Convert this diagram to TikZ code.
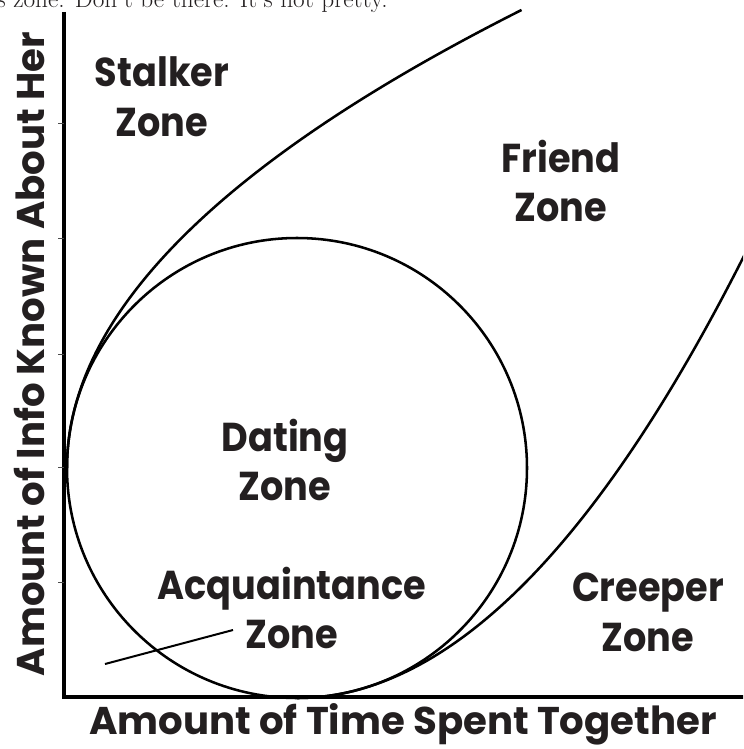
\documentclass[tikz,border=0pt]{standalone}
\usepackage{fontspec}
\newfontfamily\zonefont{Poppins}
\definecolor{ink}{HTML}{231F20}
\tikzset{
  zone/.style={font=\zonefont\bfseries\fontsize{27.5}{34}\selectfont, align=center, text=ink, inner sep=0pt, yscale=1.1},
  axislabel/.style={font=\zonefont\bfseries\fontsize{29}{30}\selectfont, text=ink, inner sep=0pt},
  curve/.style={line width=1.9pt, black},
  axisline/.style={line width=2.6pt, black},
  tick/.style={line width=0.6pt, black!70}
}
\begin{document}
\begin{tikzpicture}[x=0.75pt,y=-0.75pt]
\useasboundingbox (0,0) rectangle (743,749);
\clip (0,0) rectangle (743,749);
% cut-off caption at top
\node[anchor=base west, inner sep=0pt, font=\fontsize{19}{20}\selectfont, text=ink] (caption) at (-14,8) {es zone. Don't be there. It's not pretty.};
% axes
\coordinate (origin) at (64,697);
\coordinate (ytop) at (64,12);
\coordinate (xend) at (745,697);
\draw[axisline] (ytop) -- (origin) -- (xend);
\foreach \ty in {123,238,354,467,582} \draw[tick] (58,\ty) -- (64,\ty);
% dating circle
\node[circle, draw, line width=1.9pt, minimum size=345pt, inner sep=0pt] (circ) at (297,468) {};
% stalker / friend boundary (sideways parabola)
\draw[curve] plot[domain=468:10, samples=80, smooth] ({67+0.00216*(468-\x)*(468-\x)}, \x);
% friend / creeper boundary (parabola)
\draw[curve] plot[domain=297:745, samples=80, smooth] (\x, {698-0.00222*(\x-297)*(\x-297)});
% labels
\node[zone] (stalker) at (162,97) {Stalker\\Zone};
\node[zone] (friend) at (561,181) {Friend\\Zone};
\node[zone] (dating) at (285,460) {Dating\\Zone};
\node[zone] (acq) at (292,608) {Acquaintance\\Zone};
\node[zone] (creeper) at (648,612) {Creeper\\Zone};
\coordinate (ptr) at (105,664);
\coordinate (ptrend) at (233,630);
\draw[line width=1.5pt] (ptr) -- (ptrend);
\node[axislabel] (xlabel) at (403,724) {Amount of Time Spent Together};
\node[axislabel, rotate=90] (ylabel) at (29,354) {Amount of Info Known About Her};
\end{tikzpicture}
\end{document}
